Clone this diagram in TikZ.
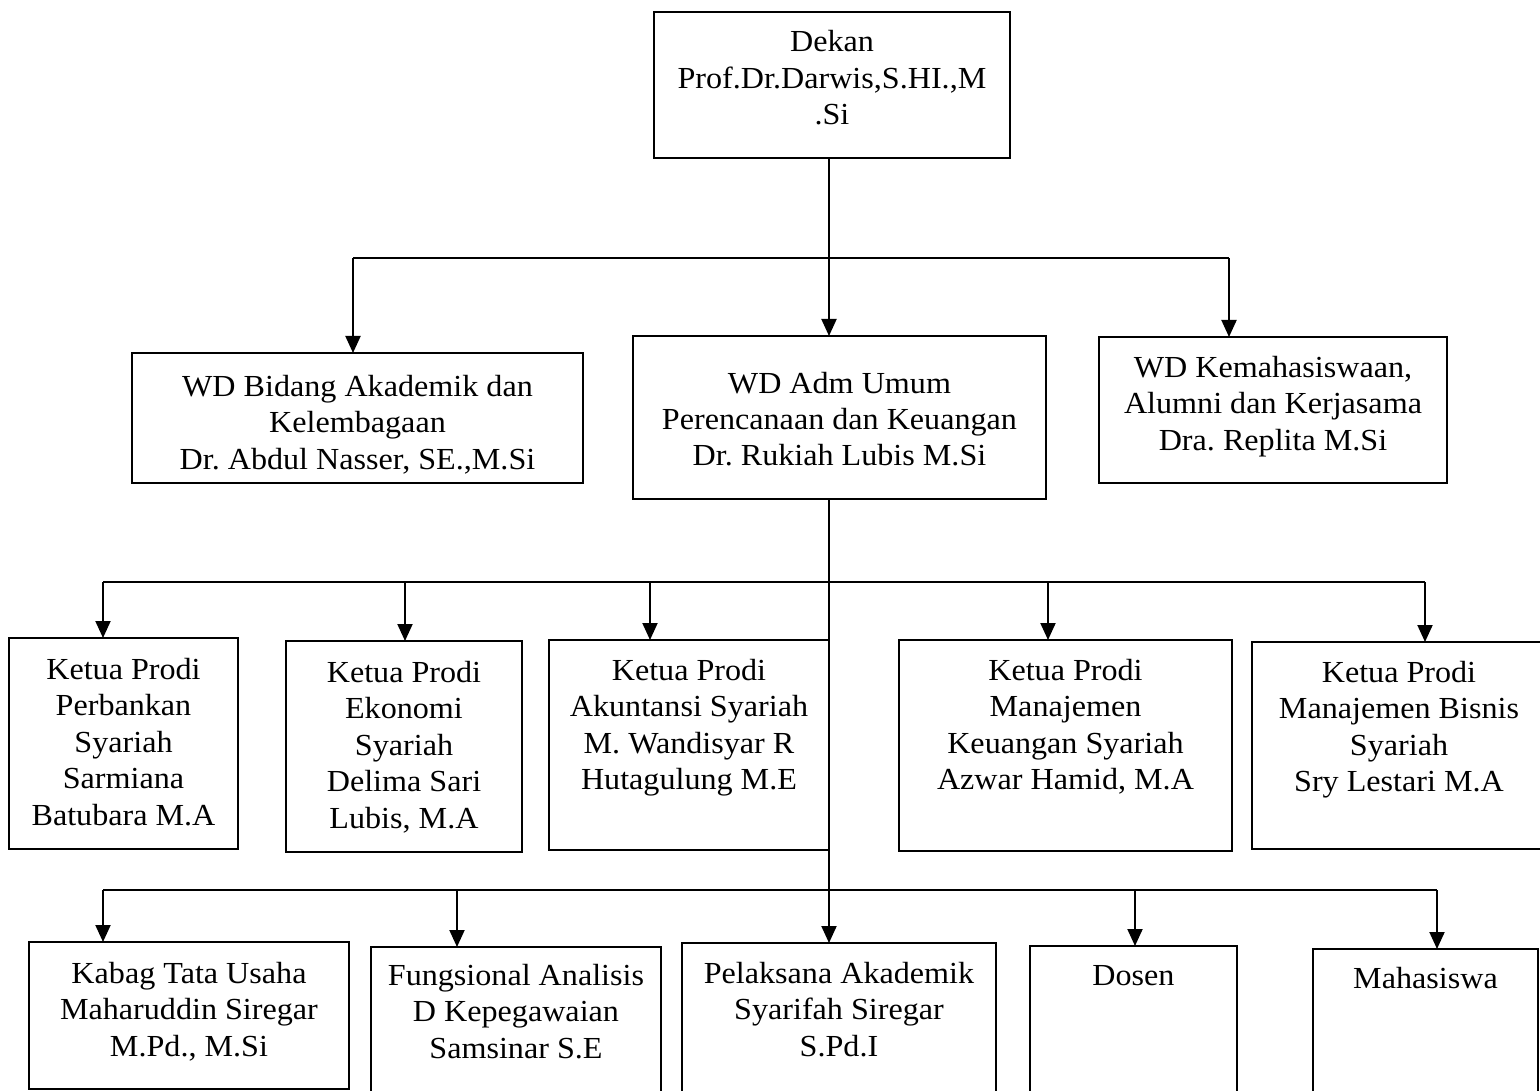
\documentclass[tikz,border=0pt]{standalone}
\usepackage{fontspec}
\setmainfont[FakeStretch=1.05]{Liberation Serif}
\usetikzlibrary{arrows.meta}
\frenchspacing
\newcommand{\bt}[4]{\parbox[c][#2pt][t]{#1pt}{\centering\frenchspacing\vspace*{#3pt}\rule{0pt}{22pt}#4}}
\tikzset{
  orgbox/.style={draw,line width=2pt,inner sep=0pt,outer sep=0pt,font=\fontsize{30.6}{36.5}\selectfont},
  link/.style={line width=2pt},
  arr/.style={link,-{Triangle[width=15pt,length=17pt]}}
}
\begin{document}
\begin{tikzpicture}[x=1pt,y=-1pt]
\useasboundingbox (0,0) rectangle (1540,1091);
\clip (0,0) rectangle (1540,1091);
\fill[white] (0,0) rectangle (1540,1091);
% level 0
\node[orgbox] (dekan) at (832,85) {\bt{356}{146}{18}{Dekan\\Prof.Dr.Darwis,S.HI.,M\\.Si}};
% level 1
\node[orgbox] (wd1) at (357.5,418) {\bt{451}{130}{21}{WD Bidang Akademik dan\\Kelembagaan\\Dr. Abdul Nasser, SE.,M.Si}};
\node[orgbox] (wd2) at (839.5,417.5) {\bt{413}{163}{35}{WD Adm Umum\\Perencanaan dan Keuangan\\Dr. Rukiah Lubis M.Si}};
\node[orgbox] (wd3) at (1273,410) {\bt{348}{146}{18}{WD Kemahasiswaan,\\Alumni dan Kerjasama\\Dra. Replita M.Si}};
% level 2
\node[orgbox] (p1) at (123.5,743.5) {\bt{229}{211}{19}{Ketua Prodi\\Perbankan\\Syariah\\Sarmiana\\Batubara M.A}};
\node[orgbox] (p2) at (404,746.5) {\bt{236}{211}{19}{Ketua Prodi\\Ekonomi\\Syariah\\Delima Sari\\Lubis, M.A}};
\node[orgbox] (p3) at (689,745) {\bt{280}{210}{18}{Ketua Prodi\\Akuntansi Syariah\\M. Wandisyar R\\Hutagulung M.E}};
\node[orgbox] (p4) at (1065.5,745.5) {\bt{333}{211}{18}{Ketua Prodi\\Manajemen\\Keuangan Syariah\\Azwar Hamid, M.A}};
\node[orgbox] (p5) at (1399,745.5) {\bt{294}{207}{18}{Ketua Prodi\\Manajemen Bisnis\\Syariah\\Sry Lestari M.A}};
% level 3
\node[orgbox] (b1) at (189,1015.5) {\bt{320}{147}{19}{Kabag Tata Usaha\\Maharuddin Siregar\\M.Pd., M.Si}};
\node[orgbox] (b2) at (516,1023.5) {\bt{290}{153}{16}{Fungsional Analisis\\D Kepegawaian\\Samsinar S.E}};
\node[orgbox] (b3) at (839,1021.5) {\bt{314}{157}{18}{Pelaksana Akademik\\Syarifah Siregar\\S.Pd.I}};
\node[orgbox] (b4) at (1133.5,1023) {\bt{207}{154}{17}{Dosen}};
\node[orgbox] (b5) at (1425.5,1024.5) {\bt{225}{151}{17}{Mahasiswa}};
% junctions
\coordinate (t1) at (829,258);
\coordinate (h1a) at (353,258);
\coordinate (h1b) at (1229,258);
\coordinate (t2) at (829,582);
\coordinate (h2a) at (103,582);
\coordinate (h2b) at (1425,582);
\coordinate (d2b) at (405,582);
\coordinate (d2c) at (650,582);
\coordinate (d2d) at (1048,582);
\coordinate (t3) at (829,890);
\coordinate (h3a) at (103,890);
\coordinate (h3b) at (1437,890);
\coordinate (d3b) at (457,890);
\coordinate (d3d) at (1135,890);
% connectors level 0 -> 1
\draw[link] (dekan.south -| t1) -- (t1);
\draw[link] (h1a) -- (h1b);
\draw[arr] (h1a) -- (h1a |- wd1.north);
\draw[arr] (t1) -- (t1 |- wd2.north);
\draw[arr] (h1b) -- (h1b |- wd3.north);
% trunk
\draw[arr] (wd2.south -| t2) -- (t2 |- b3.north);
% level 2
\draw[link] (h2a) -- (h2b);
\draw[arr] (h2a) -- (h2a |- p1.north);
\draw[arr] (d2b) -- (d2b |- p2.north);
\draw[arr] (d2c) -- (d2c |- p3.north);
\draw[arr] (d2d) -- (d2d |- p4.north);
\draw[arr] (h2b) -- (h2b |- p5.north);
% level 3
\draw[link] (h3a) -- (h3b);
\draw[arr] (h3a) -- (h3a |- b1.north);
\draw[arr] (d3b) -- (d3b |- b2.north);
\draw[arr] (d3d) -- (d3d |- b4.north);
\draw[arr] (h3b) -- (h3b |- b5.north);
\end{tikzpicture}
\end{document}
